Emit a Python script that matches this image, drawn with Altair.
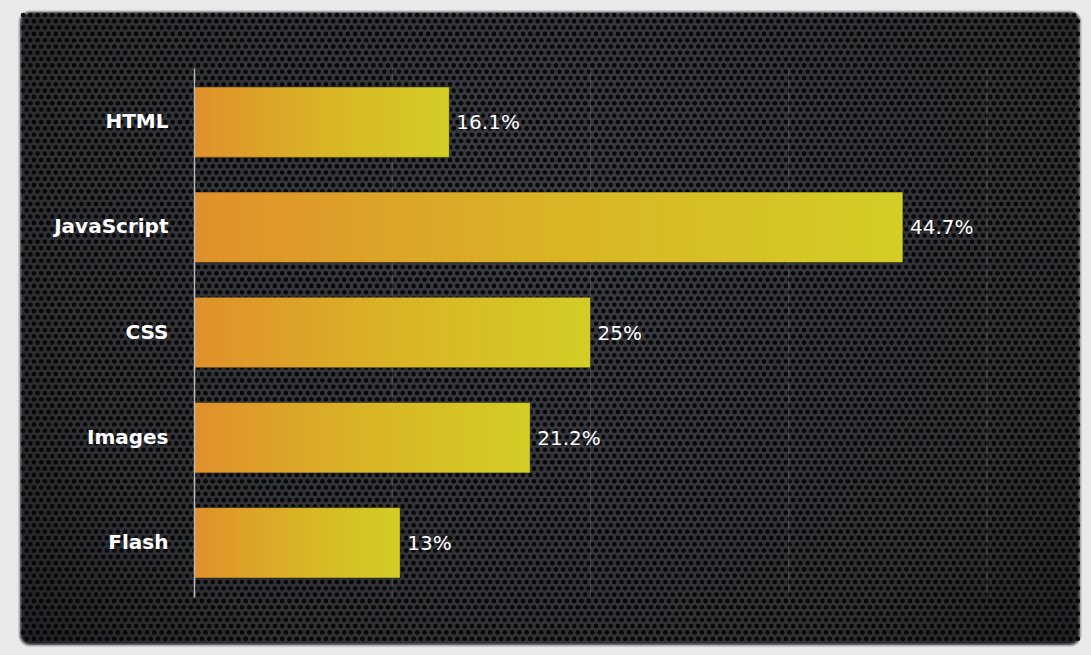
import altair as alt
import pandas as pd

categories = ["HTML", "JavaScript", "CSS", "Images", "Flash"]
shares = [16.1, 44.7, 25, 21.2, 13]
grid_values = [12.5, 25, 37.5, 50]

df = pd.DataFrame({"cat": categories, "share": shares})
gdf = pd.DataFrame({"g": grid_values})

W, H = 793, 529
PL, PT = 194, 68
# decorative hex-perforated panel texture
HEX_DX, HEX_DY, COLS, ROWS = 7.3, 6.3, 146, 101

xscale = alt.Scale(domain=[0, 50], nice=False)

panel = alt.Chart(pd.DataFrame({"a": [0]})).mark_rect(
    cornerRadius=10,
    fill=alt.Gradient(
        gradient="radial",
        stops=[alt.GradientStop(color="#3a3c41", offset=0),
               alt.GradientStop(color="#2f3034", offset=0.6),
               alt.GradientStop(color="#16171a", offset=1)],
        x1=0.5, y1=0.4, x2=0.5, y2=0.4, r1=0, r2=0.78,
    ),
    stroke="#8a8a8a", strokeWidth=3, strokeOpacity=0.6,
).encode(
    x=alt.value(20 - PL), x2=alt.value(1080 - PL),
    y=alt.value(12 - PT), y2=alt.value(645 - PT),
)

texture = alt.Chart(alt.sequence(0, COLS * ROWS, as_="i")).transform_calculate(
    row=f"floor(datum.i / {COLS})",
    col=f"datum.i % {COLS}",
).transform_calculate(
    px=f"{20 - PL + 3} + datum.col * {HEX_DX} + (datum.row % 2) * {HEX_DX / 2}",
    py=f"{12 - PT + 3} + datum.row * {HEX_DY}",
).transform_filter(
    f"datum.px < {1080 - PL - 2} && datum.py < {645 - PT - 2}"
).mark_circle(size=21, color="#050506", opacity=0.95).encode(
    x=alt.X("px:Q", scale=alt.Scale(domain=[0, W], range=[0, W], nice=False, zero=False), axis=None),
    y=alt.Y("py:Q", scale=alt.Scale(domain=[0, H], range=[0, H], nice=False, zero=False), axis=None),
)

grid = alt.Chart(gdf).mark_rule(color="#ffffff", opacity=0.16, strokeWidth=1).encode(
    x=alt.X("g:Q", scale=xscale, axis=None)
)

y_enc = alt.Y("cat:N", sort=categories, title=None,
              scale=alt.Scale(paddingInner=0.33, paddingOuter=0.18),
              axis=alt.Axis(labelColor="white", labelFont="DejaVu Sans",
                            labelFontWeight="bold", labelFontSize=20,
                            labelPadding=26, ticks=False, domain=True,
                            domainColor="#b8b8b8", domainWidth=1.5, grid=False,
                            zindex=1))
x_enc = alt.X("share:Q", title=None, scale=xscale, axis=None)

bars = alt.Chart(df).mark_bar(
    fill=alt.Gradient(
        gradient="linear",
        stops=[alt.GradientStop(color="#e0902b", offset=0),
               alt.GradientStop(color="#d9b425", offset=0.5),
               alt.GradientStop(color="#d3cd26", offset=1)],
        x1=0, x2=1, y1=0, y2=0,
    ),
    stroke="#1a1a1a", strokeWidth=1, strokeOpacity=0.5,
).encode(x=x_enc, y=y_enc)

labels = alt.Chart(df).transform_calculate(
    lab="datum.share + '%'"
).mark_text(
    align="left", baseline="middle", dx=7, dy=1,
    color="white", font="DejaVu Sans", fontSize=20,
).encode(x="share:Q", y=alt.Y("cat:N", sort=categories), text="lab:N")

data_layers = alt.layer(grid, bars, labels)

chart = alt.layer(panel, texture, data_layers).resolve_scale(
    x="independent", y="independent"
).properties(
    width=W, height=H,
    autosize=alt.AutoSizeParams(type="none"),
    padding={"left": PL, "top": PT, "right": 1091 - PL - W, "bottom": 655 - PT - H},
    background="#e9e9e9",
).configure_view(stroke=None)

chart.save("out.html", embed_options={"renderer": "svg", "actions": False})
